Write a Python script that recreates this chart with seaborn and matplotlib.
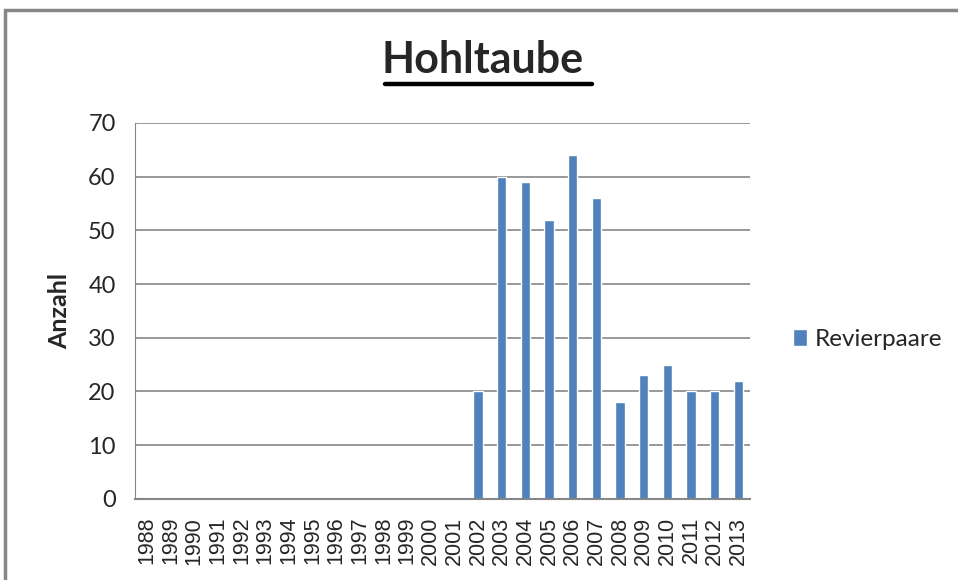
import matplotlib
matplotlib.use("Agg")
import matplotlib.pyplot as plt
import seaborn as sns
import pandas as pd
from matplotlib.patches import Rectangle

# data
years = [str(y) for y in range(1988, 2014)]
revierpaare = [0, 0, 0, 0, 0, 0, 0, 0, 0, 0, 0, 0, 0, 0,
               20, 60, 59, 52, 64, 56, 18, 23, 25, 20, 20, 22]

df = pd.DataFrame({"Jahr": years, "Revierpaare": revierpaare})

sns.set_style("white")
plt.rcParams["font.family"] = ["Lato", "DejaVu Sans"]

fig = plt.figure(figsize=(9.58, 5.8), dpi=100)
ax = fig.add_axes([0.141, 0.140, 0.642, 0.648])

sns.barplot(data=df, x="Jahr", y="Revierpaare", color="#4F81BD",
            width=0.4, saturation=1, ax=ax, label="Revierpaare")

ax.set_ylim(0, 70)
ax.set_yticks(range(0, 71, 10))
ax.set_xlim(-0.5, len(years) - 0.5)
ax.yaxis.grid(True, color="#868686", linewidth=1.2)
ax.set_axisbelow(True)
for s in ["top", "right"]:
    ax.spines[s].set_visible(False)
ax.spines["left"].set_color("#868686")
ax.spines["bottom"].set_color("#868686")
ax.spines["bottom"].set_linewidth(1.5)

# Excel-like ticks between categories
ax.set_xticks(range(len(years)))
ax.set_xticklabels(years, rotation=90, fontsize=15.5, family="Liberation Sans")
ax.tick_params(axis="x", which="major", length=0, pad=13)
ax.set_xticks([i - 0.5 for i in range(len(years) + 1)], minor=True)
ax.tick_params(axis="x", which="minor", length=7, color="#868686", width=1.2)
ax.tick_params(axis="y", labelsize=17, length=0, pad=14)

ax.set_xlabel("")
ax.set_ylabel("Anzahl", fontsize=18, fontweight="bold", labelpad=12)

fig.text(0.5035, 0.897, "Hohltaube", ha="center", va="center",
         fontsize=31, fontweight="bold")
# underline of the title
fig.add_artist(plt.Line2D([385 / 958, 592 / 958], [1 - 84 / 580, 1 - 84 / 580],
                          color="black", linewidth=3.2))

ax.legend(loc="center left", bbox_to_anchor=(1.07, 0.423), frameon=False,
          fontsize=17.5, handlelength=0.55, handleheight=0.7, handletextpad=0.35,
          borderpad=0, borderaxespad=0)

# chart border
fig.add_artist(Rectangle((5 / 958, -0.01), 1.0, 1 - 10 / 580 + 0.01,
                         transform=fig.transFigure, fill=False,
                         edgecolor="#868686", linewidth=2.5))

fig.savefig("out.png", dpi=100)
